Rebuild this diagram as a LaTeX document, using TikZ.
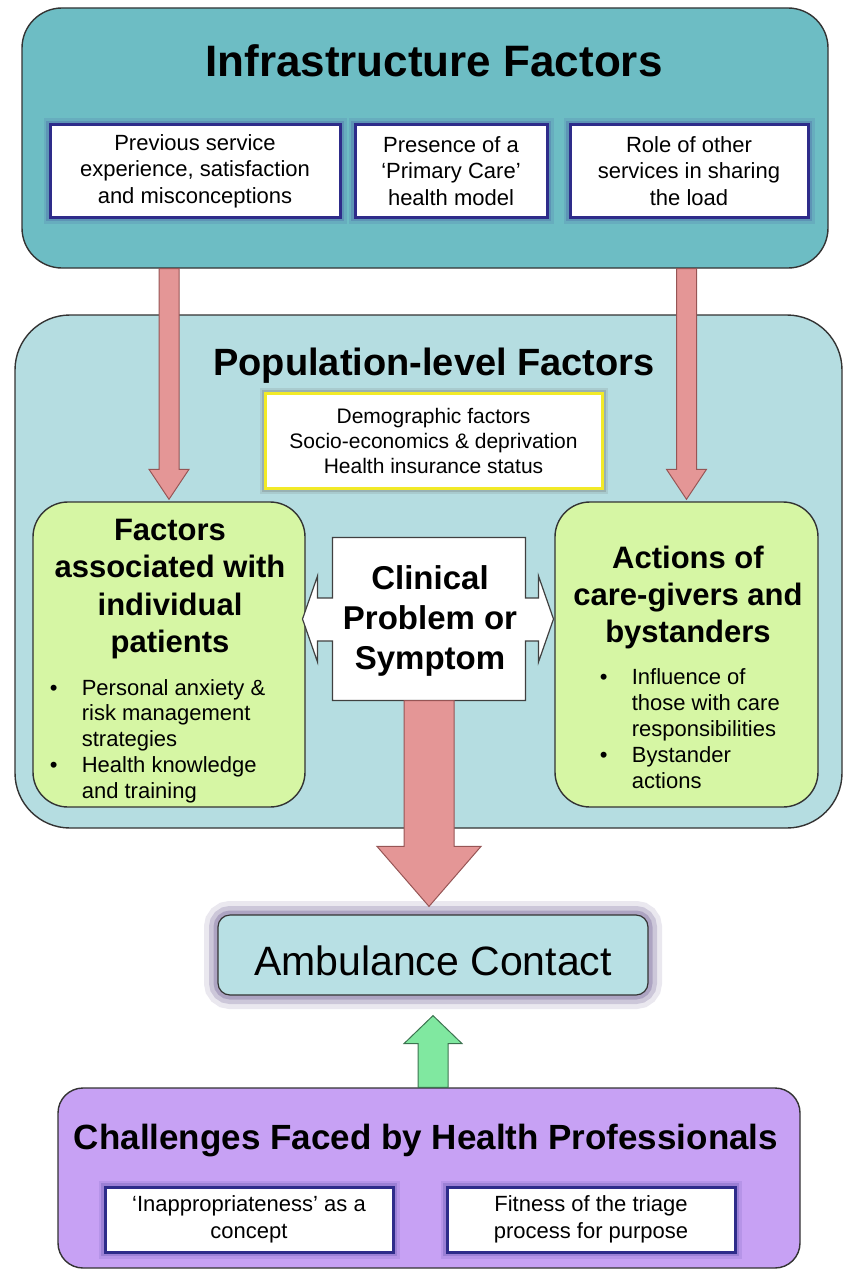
\documentclass[tikz,border=0pt]{standalone}
\usepackage{fontspec}
\setmainfont{Liberation Sans}
\usetikzlibrary{calc}

\definecolor{infrafill}{RGB}{109,189,196}
\definecolor{popfill}{RGB}{181,221,225}
\definecolor{greenfill}{RGB}{214,246,164}
\definecolor{purplefill}{RGB}{199,161,244}
\definecolor{ambfill}{RGB}{184,224,228}
\definecolor{navy}{RGB}{46,44,138}
\definecolor{glowblue}{RGB}{60,60,150}
\definecolor{yellowline}{RGB}{242,234,40}
\definecolor{pinkdark}{RGB}{228,150,150}
\definecolor{pinklight}{RGB}{248,210,210}
\definecolor{pinkedge}{RGB}{150,85,85}
\definecolor{mintfill}{RGB}{128,232,160}
\definecolor{mintedge}{RGB}{60,115,80}
\definecolor{ambglow}{RGB}{115,100,150}

\newcommand{\fsz}[2]{\fontsize{#1}{#2}\selectfont}
% block arrow: [style]{tail}{tip}{half shaft}{half head}{head length}
\newcommand{\blockarrow}[6][]{%
  \coordinate (ahb) at ($(#3)!#6!(#2)$);
  \draw [#1] ($(#2)!#4!90:(#3)$) -- ($(ahb)!#4!90:(#3)$) -- ($(ahb)!#5!90:(#3)$) -- (#3)
    -- ($(ahb)!#5!-90:(#3)$) -- ($(ahb)!#4!-90:(#3)$) -- ($(#2)!#4!-90:(#3)$) -- cycle;}

\tikzset{every picture/.style={line width=1pt}}
\tikzset{
  panel/.style={draw=black!80, line width=1.4pt},
  factorbox/.style={draw=navy, line width=3pt, fill=white, align=center, font=\fsz{22}{26.5},
    preaction={draw=glowblue, line width=13pt, draw opacity=.12},
    preaction={draw=glowblue, line width=8pt, draw opacity=.22}},
  popbox/.style={draw=yellowline, line width=3pt, fill=white, align=center, font=\fsz{21}{25},
    preaction={draw=black!60, line width=11pt, draw opacity=.15},
    preaction={draw=black!60, line width=7pt, draw opacity=.25}},
  gtitle/.style={align=center, font=\bfseries\fsz{31}{37.5}},
  ambbox/.style={draw=black!80, line width=1.2pt, fill=ambfill, rounded corners=12pt,
    preaction={draw=ambglow, line width=28pt, draw opacity=.15},
    preaction={draw=ambglow, line width=18pt, draw opacity=.25},
    preaction={draw=ambglow, line width=9pt, draw opacity=.35}},
  pinkarrow/.style={draw=pinkedge, line width=1pt, left color=pinkdark, middle color=pinklight, right color=pinkdark},
  mintarrow/.style={draw=mintedge, line width=1pt, fill=mintfill},
}

\begin{document}
\begin{tikzpicture}[x=1pt,y=1pt,yscale=-1]
\useasboundingbox (0,0) rectangle (845,1271);

%Shape: Infrastructure panel
\node [panel, fill=infrafill, rounded corners=40pt, minimum width=806pt, minimum height=260pt] (infra) at (425,138) {};
% Text Node
\node [anchor=base, font=\bfseries\fsz{44}{50}] (infratitle) at (434,77) {Infrastructure Factors};
% Text Node
\node [factorbox, minimum width=290pt, minimum height=92pt] (prev) at (195,171) {Previous service\\experience, satisfaction\\and misconceptions};
% Text Node
\node [factorbox, minimum width=192pt, minimum height=92pt] (primary) at (451,171) {Presence of a\\‘Primary Care’\\health model};
% Text Node
\node [factorbox, minimum width=238pt, minimum height=92pt] (others) at (689,171) {Role of other\\services in sharing\\the load};

%Shape: Population panel
\node [panel, fill=popfill, rounded corners=55pt, minimum width=827pt, minimum height=513pt] (pop) at (428.5,571.5) {};
% Text Node
\node [anchor=base, font=\bfseries\fsz{38}{44}] (poptitle) at (434,375) {Population-level Factors};
% Text Node
\node [popbox, minimum width=337pt, minimum height=95pt] (demo) at (433.5,440.5) {Demographic factors\\Socio-economics \& deprivation\\Health insurance status};

%Shape: individual patients
\node [panel, fill=greenfill, rounded corners=35pt, minimum width=272pt, minimum height=305pt] (indiv) at (169,654.5) {};
% Text Node
\node [gtitle] (indivtitle) at (170,589) {Factors\\associated with\\individual\\patients};
% Text Node
\node [anchor=base west, font=\fsz{22}{25.8}] (indivlist) at (46,695) {\begin{tabular}[t]{@{}p{32pt}@{}l@{}}
  \textbullet & Personal anxiety \&\\ & risk management\\ & strategies\\
  \textbullet & Health knowledge\\ & and training\end{tabular}};

%Shape: care-givers
\node [panel, fill=greenfill, rounded corners=35pt, minimum width=263pt, minimum height=305pt] (carers) at (686.5,654.5) {};
% Text Node
\node [gtitle, font=\bfseries\fsz{31}{37}] (carerstitle) at (688,597) {Actions of\\care-givers and\\bystanders};
% Text Node
\node [anchor=base west, font=\fsz{22}{26.2}] (carerslist) at (596,684) {\begin{tabular}[t]{@{}p{32pt}@{}l@{}}
  \textbullet & Influence of\\ & those with care\\ & responsibilities\\
  \textbullet & Bystander\\ & actions\end{tabular}};

%Shape: clinical problem, double arrow
\node [minimum width=192pt, minimum height=162pt] (clin) at (429,619) {};
\draw [fill=white, draw=black!75, line width=1.2pt] (clin.north west) -- (clin.north east)
  -- ($(clin.east)+(0,-21)$) -- ($(clin.east)+(13,-21)$) -- ($(clin.east)+(13,-43)$) -- ($(clin.east)+(28,0)$)
  -- ($(clin.east)+(13,43)$) -- ($(clin.east)+(13,22)$) -- ($(clin.east)+(0,22)$) -- (clin.south east)
  -- (clin.south west) -- ($(clin.west)+(0,22)$) -- ($(clin.west)+(-15,22)$) -- ($(clin.west)+(-15,43)$)
  -- ($(clin.west)+(-30,0)$) -- ($(clin.west)+(-15,-43)$) -- ($(clin.west)+(-15,-21)$) -- ($(clin.west)+(0,-21)$) -- cycle;
% Text Node
\node [align=center, font=\bfseries\fsz{33}{40}] (clintext) at (430,621) {Clinical\\Problem or\\Symptom};

%Shape: Ambulance Contact
\node [ambbox, minimum width=430pt, minimum height=80pt, font=\fsz{41}{48}, text height=40pt, text depth=0pt] (amb) at (433,955) {Ambulance Contact};

%Shape: Challenges panel
\node [panel, fill=purplefill, rounded corners=25pt, minimum width=742pt, minimum height=180pt] (chall) at (429,1178) {};
% Text Node
\node [anchor=base, font=\bfseries\fsz{35}{40}] (challtitle) at (426,1149) {Challenges Faced by Health Professionals};
% Text Node
\node [factorbox, minimum width=288pt, minimum height=65pt] (inapp) at (249,1219.5) {‘Inappropriateness’ as a\\concept};
% Text Node
\node [factorbox, minimum width=288pt, minimum height=65pt] (fitness) at (591,1219.5) {Fitness of the triage\\process for purpose};

%Block arrows
\coordinate (ltail) at (indiv.north |- infra.south);
\coordinate (ltip) at ($(indiv.north)+(0,-2)$);
\blockarrow[pinkarrow]{ltail}{ltip}{10pt}{20pt}{30pt}
\coordinate (rtail) at (carers.north |- infra.south);
\coordinate (rtip) at ($(carers.north)+(0,-2)$);
\blockarrow[pinkarrow]{rtail}{rtip}{10pt}{20pt}{30pt}
\coordinate (bigtip) at ($(clin.south |- amb.north)+(0,-8)$);
\blockarrow[pinkarrow]{clin.south}{bigtip}{25pt}{52pt}{60pt}
\coordinate (gtail) at (amb.south |- chall.north);
\coordinate (gtip) at ($(amb.south)+(0,20)$);
\blockarrow[mintarrow]{gtail}{gtip}{15pt}{29pt}{28pt}

\end{tikzpicture}
\end{document}
